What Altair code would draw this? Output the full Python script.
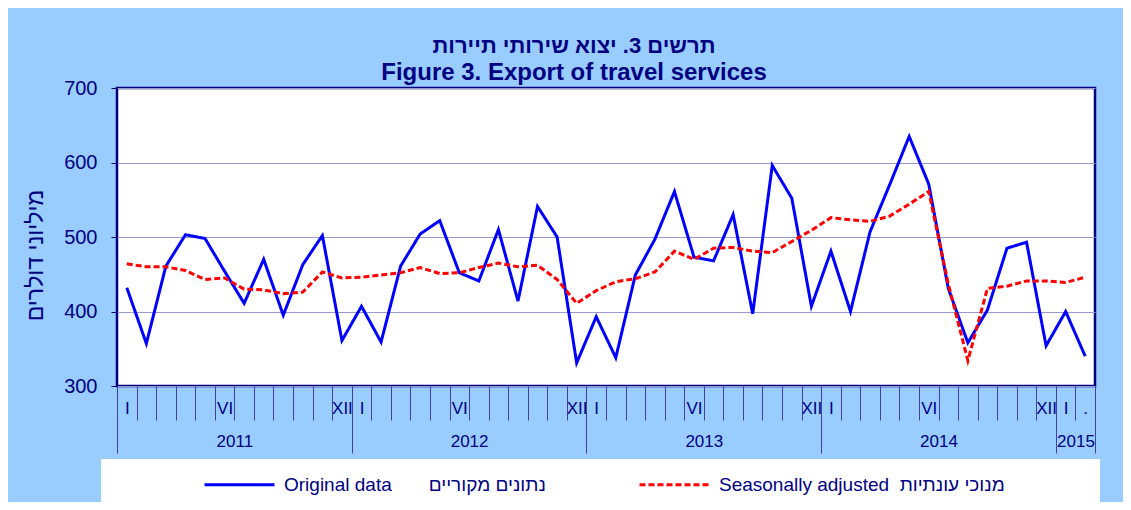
import altair as alt
import pandas as pd

# ---------------- data ----------------
months_per_year = [12, 12, 12, 12, 2]
year_labels = ["2011", "2012", "2013", "2014", "2015"]
month_labels = [
    "I", "", "", "", "", "VI", "", "", "", "", "", "XII",
    "I", "", "", "", "", "VI", "", "", "", "", "", "XII",
    "I", "", "", "", "", "VI", "", "", "", "", "", "XII",
    "I", "", "", "", "", "VI", "", "", "", "", "", "XII",
    "I", ".",
]
original = [432, 357, 461, 503, 498, 454, 411, 470, 395, 463, 502, 361,
            407, 359, 461, 504, 522, 452, 441, 510, 414, 541, 500, 331,
            393, 338, 449, 497, 561, 473, 468, 530, 397, 596, 552, 407,
            481, 400, 507, 570, 635, 571, 431, 358, 402, 485, 493, 354,
            400, 340]
seasonal = [464, 460, 460, 455, 443, 445, 430, 429, 424, 426, 453, 445,
            446, 449, 452, 459, 451, 452, 459, 465, 460, 462, 443, 411,
            428, 440, 444, 453, 481, 470, 485, 486, 481, 479, 494, 509,
            526, 523, 521, 528, 544, 561, 437, 334, 431, 434, 441, 441,
            439, 446]
series_names = [
    "Original data\u00a0\u00a0\u00a0\u00a0\u00a0\u00a0\u00a0נתונים מקוריים",
    "Seasonally adjusted\u00a0\u00a0מנוכי עונתיות",
]
title_he = "תרשים 3. יצוא שירותי תיירות"
title_en = "Figure 3. Export of travel services"
y_title = "מיליוני דולרים"

n = len(original)
rows = []
for i in range(n):
    rows.append({"idx": i, "value": original[i], "series": series_names[0], "kind": "orig"})
for i in range(n):
    rows.append({"idx": i, "value": seasonal[i], "series": series_names[1], "kind": "sa"})
df = pd.DataFrame(rows)

# axis positions derived from the month structure
month_bounds = [k - 0.5 for k in range(n + 1)]
month_centers = list(range(n))
year_bounds = [-0.5]
year_centers = []
start = 0
for m in months_per_year:
    year_centers.append(start + (m - 1) / 2)
    start += m
    year_bounds.append(start - 0.5)

NAVY = "#000080"
TICK = "#4040A0"
FONT = "Liberation Sans"

month_expr = "[" + ",".join("'%s'" % s for s in month_labels) + "][datum.value]"
year_expr = ("[" + ",".join("'%s'" % s for s in year_labels) + "][indexof(["
             + ",".join(str(c) for c in year_centers) + "], datum.value)]")

x_scale = alt.Scale(domain=[-0.5, n - 0.5], nice=False, zero=False)

axis_month_ticks = alt.Axis(orient="bottom", values=month_bounds, labels=False, ticks=True,
                            tickSize=34, tickColor=TICK, tickWidth=1, domain=False,
                            grid=False, title=None)
axis_month_labels = alt.Axis(orient="bottom", values=month_centers, labelExpr=month_expr,
                             ticks=False, tickSize=0, domain=False, grid=False,
                             labelPadding=14, labelFontSize=17, labelColor=NAVY,
                             labelFont=FONT, labelOverlap=False, labelFlush=False,
                             title=None)
axis_year_ticks = alt.Axis(orient="bottom", values=year_bounds, labels=False, ticks=True,
                           tickSize=67, tickColor=TICK, tickWidth=1, domain=False,
                           grid=False, title=None)
axis_year_labels = alt.Axis(orient="bottom", values=year_centers, labelExpr=year_expr,
                            ticks=False, tickSize=0, domain=False, grid=False,
                            labelPadding=47, labelFontSize=17, labelColor=NAVY,
                            labelFont=FONT, labelOverlap=False, labelFlush=False,
                            title=None)

y_enc = alt.Y(
    "value:Q",
    scale=alt.Scale(domain=[300, 700], nice=False, zero=False),
    axis=alt.Axis(values=[300, 400, 500, 600, 700], title=y_title, titleFontSize=23,
                  titleColor=NAVY, titleFont=FONT, titleFontWeight="normal",
                  titlePadding=16, titleY=167, labelFontSize=20, labelColor=NAVY,
                  labelFont=FONT, labelPadding=14, tickSize=6, tickColor=NAVY,
                  domain=False, grid=True, gridColor="#9999CC", gridWidth=1),
)

legend = alt.Legend(orient="none", legendX=86, legendY=360, direction="horizontal",
                    title=None, symbolType="stroke", symbolSize=4900,
                    symbolStrokeWidth=3, labelFontSize=19, labelFont=FONT,
                    labelColor=NAVY, labelLimit=600, columnPadding=87,
                    labelOffset=8, padding=0)
color_enc = alt.Color("series:N", scale=alt.Scale(domain=series_names,
                                                  range=["#0000FF", "#FF0000"]),
                      legend=legend)
dash_enc = alt.StrokeDash("series:N", scale=alt.Scale(domain=series_names,
                                                      range=[[1, 0], [6, 3]]),
                          legend=legend)

legend_box = alt.Chart(pd.DataFrame({"k": [0]})).mark_rect(color="white").encode(
    x=alt.value(-16), x2=alt.value(983), y=alt.value(371), y2=alt.value(419)
)

blue = alt.Chart(df).transform_filter(alt.datum.kind == "orig").mark_line(strokeWidth=3).encode(
    x=alt.X("idx:Q", scale=x_scale, axis=axis_month_ticks),
    y=y_enc, color=color_enc, strokeDash=dash_enc,
)
red = alt.Chart(df).transform_filter(alt.datum.kind == "sa").mark_line(strokeWidth=3).encode(
    x=alt.X("idx:Q", scale=x_scale, axis=axis_month_labels),
    y=y_enc, color=color_enc, strokeDash=dash_enc,
)
ghost1 = alt.Chart(df).transform_filter(alt.datum.kind == "orig").mark_point(opacity=0).encode(
    x=alt.X("idx:Q", scale=x_scale, axis=axis_year_ticks), y=y_enc,
)
ghost2 = alt.Chart(df).transform_filter(alt.datum.kind == "orig").mark_point(opacity=0).encode(
    x=alt.X("idx:Q", scale=x_scale, axis=axis_year_labels), y=y_enc,
)

chart = alt.layer(legend_box, blue, red, ghost1, ghost2).resolve_axis(
    x="independent"
).properties(
    width=978,
    height=298,
    autosize=alt.AutoSizeParams(type="none"),
    padding={"left": 109, "top": 80, "right": 28, "bottom": 116},
    background="#99CCFF",
    title=alt.TitleParams(text=title_he, fontSize=22, font=FONT, fontWeight="bold",
                          color=NAVY, subtitle=title_en, subtitleFontSize=24,
                          subtitleFont=FONT, subtitleFontWeight="bold",
                          subtitleColor=NAVY, subtitlePadding=3,
                          anchor="middle", frame="group", dx=-32,
                          dy=12, offset=4),
).configure_view(stroke=NAVY, strokeWidth=2.5, fill="white")

chart.save("out.html", embed_options={"renderer": "svg", "actions": False})
